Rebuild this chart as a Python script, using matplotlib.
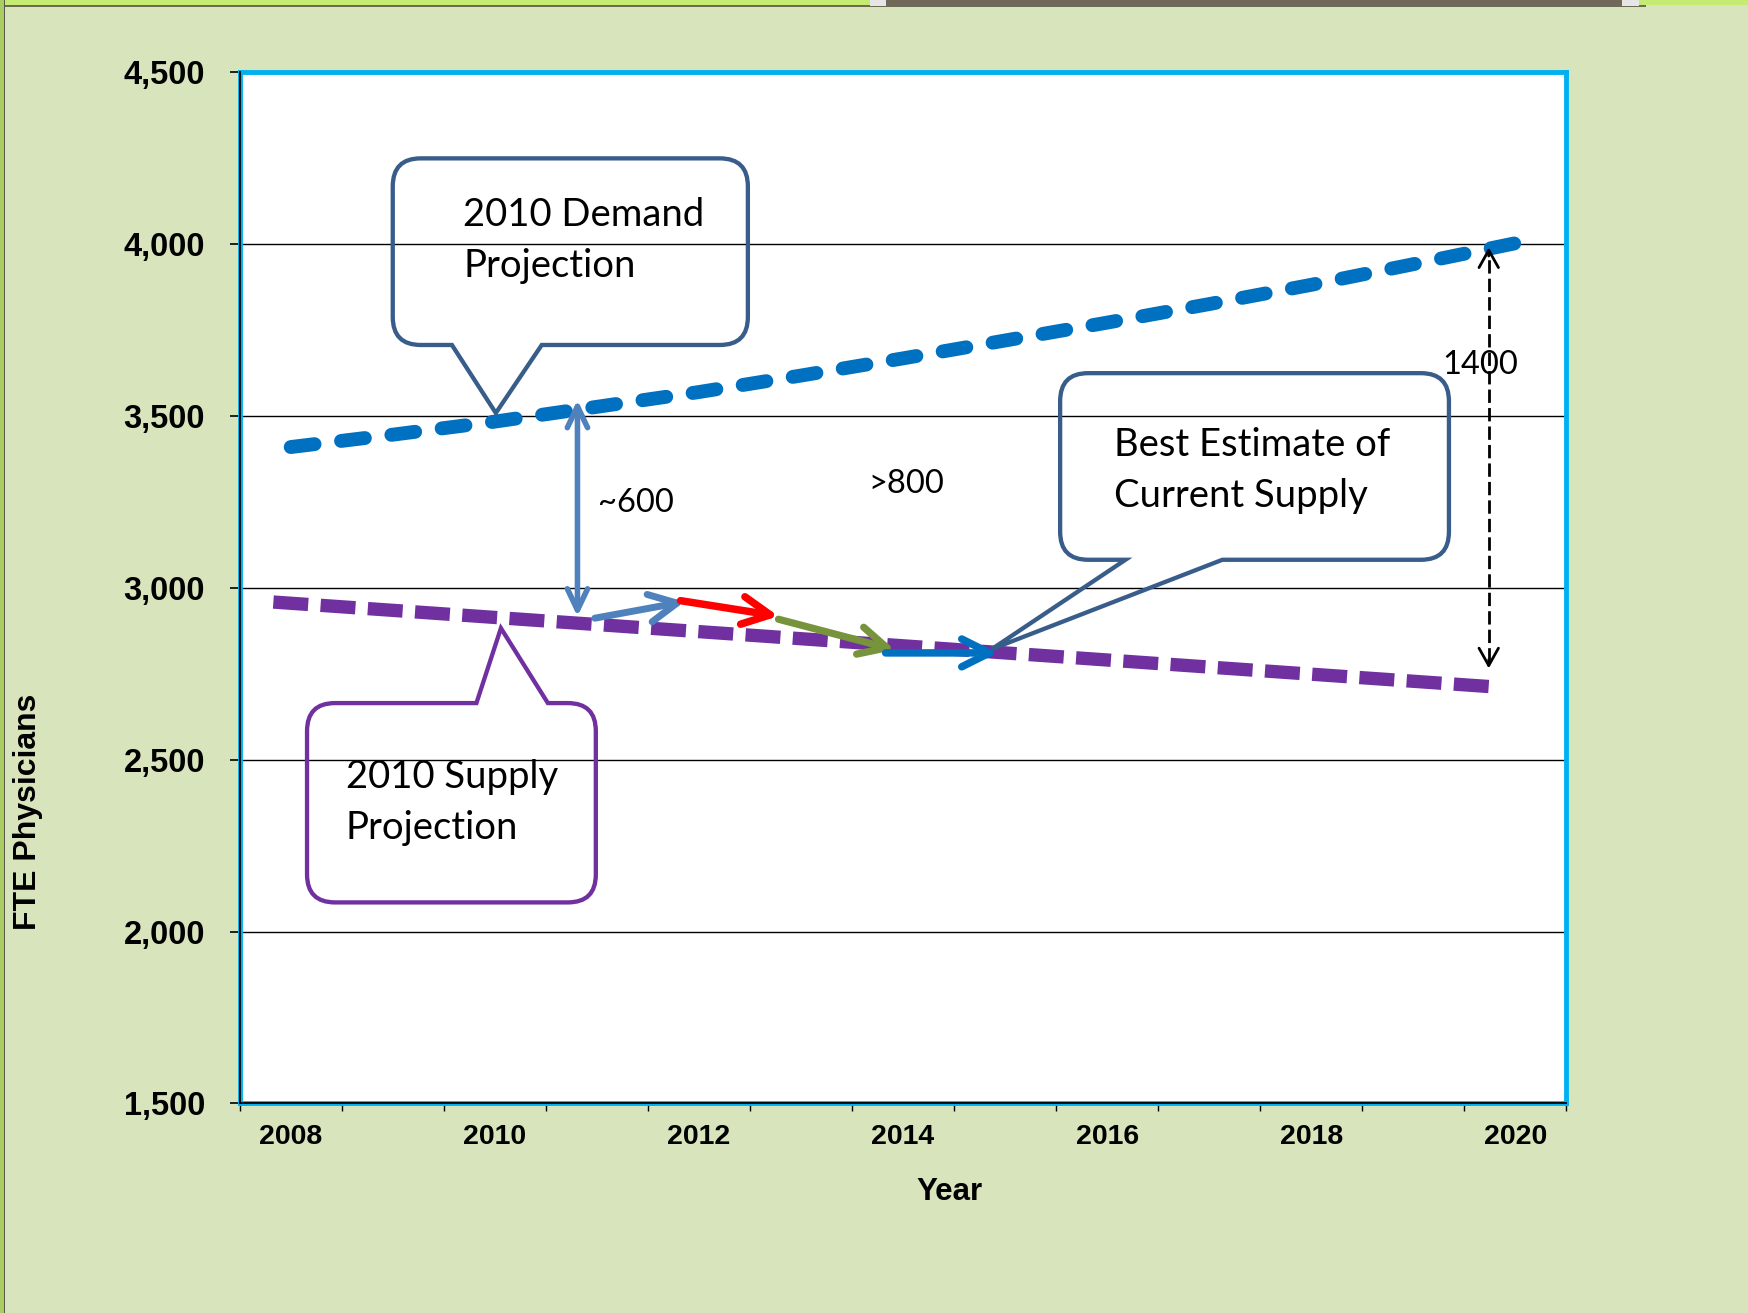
import matplotlib.pyplot as plt
from matplotlib.path import Path
from matplotlib.patches import PathPatch, FancyArrowPatch, Rectangle
from matplotlib.ticker import FuncFormatter, MultipleLocator

# data
years = list(range(2008, 2021))
demand = [3410, 3446, 3484, 3527, 3570, 3618, 3668, 3720, 3772, 3826, 3882, 3942, 4003]
supply_years = [2007.83, 2019.75]
supply = [2959, 2713]

y_ticks = [1500, 2000, 2500, 3000, 3500, 4000, 4500]
x_labels = [2008, 2010, 2012, 2014, 2016, 2018, 2020]

# callouts: box (x0, x1, y0, y1), pointer base (xa, xb), tip, side, colour, text lines
callouts = [
    ((2009.0, 2012.48, 3707, 4250), (2009.58, 2010.46), (2010.01, 3509), 'bottom', '#385D8A',
     ['2010 Demand', 'Projection'], (2009.69, 4053)),
    ((2008.16, 2010.99, 2085, 2665), (2009.82, 2010.52), (2010.06, 2883), 'top', '#7030A0',
     ['2010 Supply', 'Projection'], (2008.54, 2417)),
    ((2015.54, 2019.35, 3082, 3625), (2016.18, 2017.13), (2014.87, 2822), 'bottom', '#385D8A',
     ['Best Estimate of', 'Current Supply'], (2016.065, 3384)),
]
line_gap = 148

# arrows: start, end, colour, width, style
arrows = [
    ((2010.81, 2917), (2010.81, 3547), '#4F81BD', 4.0, '<->'),
    ((2010.98, 2912), (2011.86, 2960), '#4F81BD', 5.0, '->'),
    ((2011.82, 2963), (2012.78, 2918), '#FF0000', 5.4, '->'),
    ((2012.78, 2909), (2013.92, 2820), '#77933C', 5.2, '->'),
    ((2013.83, 2811), (2014.93, 2811), '#0070C0', 5.4, '->'),
]
gap_x = 2019.74
gap_lo, gap_hi = 2766, 3991

notes = [('~600', 2011.01, 3222), ('>800', 2013.66, 3276), ('1400', 2019.28, 3624)]

W, H = 1748, 1313
fig = plt.figure(figsize=(W / 100, H / 100), dpi=100, facecolor='#D8E4BC')

# screenshot edges
fig.add_artist(Rectangle((0, 1 - 5 / H), 1, 5 / H, transform=fig.transFigure, color='#C6EB73', lw=0))
fig.add_artist(Rectangle((0, 1 - 6.5 / H), 1646 / W, 1.5 / H, transform=fig.transFigure, color='#6B6B55', lw=0))
fig.add_artist(Rectangle((870 / W, 1 - 6 / H), 769 / W, 6 / H, transform=fig.transFigure, color='#E6E6E6', lw=0))
fig.add_artist(Rectangle((886 / W, 1 - 6 / H), 736 / W, 6 / H, transform=fig.transFigure, color='#72685A', lw=0))
fig.add_artist(Rectangle((0, 0), 3.5 / W, 1, transform=fig.transFigure, color='#A9CD62', lw=0))
fig.add_artist(Rectangle((3.5 / W, 0), 1.5 / W, 1, transform=fig.transFigure, color='#5A5A4A', lw=0))

ax = fig.add_axes([215 / 1568, 1 - 990 / 1178, 1190 / 1568, 925 / 1178])
ax.set_facecolor('white')
ax.set_xlim(2007.5, 2020.5)
ax.set_ylim(1500, 4500)

for s in ax.spines.values():
    s.set_color('#00B0F0')
    s.set_linewidth(3.5)
ax.plot([0, 0], [0, 1], transform=ax.transAxes, color='black', lw=1.3, clip_on=False, zorder=3)
ax.plot([0, 1], [0, 0], transform=ax.transAxes, color='black', lw=1.3, clip_on=False, zorder=3)

ax.set_yticks(y_ticks)
ax.yaxis.set_major_formatter(FuncFormatter(lambda v, p: f'{int(v):,}'))
ax.set_xticks(x_labels)
ax.set_xticklabels([str(x) for x in x_labels])
ax.xaxis.set_minor_locator(MultipleLocator(1, offset=0.5))
ax.tick_params(axis='y', length=7, width=1.2, direction='out', pad=18)
ax.tick_params(axis='x', which='major', length=0, pad=15)
ax.tick_params(axis='x', which='minor', length=6, width=1.0, direction='out')
for lab in ax.get_yticklabels():
    lab.set_fontfamily('Liberation Sans')
    lab.set_fontweight('bold')
    lab.set_fontsize(23.5)
for lab in ax.get_xticklabels():
    lab.set_fontfamily('Liberation Sans')
    lab.set_fontweight('bold')
    lab.set_fontsize(20.5)
ax.yaxis.grid(True, color='black', lw=1.0)
ax.set_axisbelow(True)

fig.text(852 / 1568, 1 - 1069 / 1178, 'Year', ha='center', va='center',
         fontfamily='Liberation Sans', fontweight='bold', fontsize=22.5)
fig.text(25 / 1568, 1 - 728 / 1178, 'FTE Physicians', ha='center', va='center', rotation=90,
         fontfamily='Liberation Sans', fontweight='bold', fontsize=23)

# projection lines
ax.plot(years, demand, color='#0070C0', lw=10, ls=(0, (1.73, 1.92)), dash_capstyle='round', zorder=4)
ax.plot(supply_years, supply, color='#7030A0', lw=9.6, ls=(0, (2.62, 0.93)), dash_capstyle='butt', zorder=4)


def callout(box, base, tip, side, color, r=28):
    T = ax.transData
    x0, x1, y0, y1 = box
    L, B = T.transform((x0, y0))
    R, Tp = T.transform((x1, y1))
    edge = B if side == 'bottom' else Tp
    ba = T.transform((base[0], edge))[0]
    bb = T.transform((base[1], edge))[0]
    tx, ty = T.transform(tip)
    v = [(L + r, Tp)]
    c = [Path.MOVETO]
    if side == 'top':
        v += [(ba, Tp), (tx, ty), (bb, Tp)]
        c += [Path.LINETO] * 3
    v += [(R - r, Tp), (R, Tp), (R, Tp - r), (R, B + r), (R, B), (R - r, B)]
    c += [Path.LINETO, Path.CURVE3, Path.CURVE3, Path.LINETO, Path.CURVE3, Path.CURVE3]
    if side == 'bottom':
        v += [(bb, B), (tx, ty), (ba, B)]
        c += [Path.LINETO] * 3
    v += [(L + r, B), (L, B), (L, B + r), (L, Tp - r), (L, Tp), (L + r, Tp), (L + r, Tp)]
    c += [Path.LINETO, Path.CURVE3, Path.CURVE3, Path.LINETO, Path.CURVE3, Path.CURVE3, Path.CLOSEPOLY]
    dv = T.inverted().transform(v)
    ax.add_patch(PathPatch(Path(dv, c), facecolor='none', edgecolor=color, lw=3.1,
                           joinstyle='miter', zorder=5))


for box, base, tip, side, color, lines, (tx, ty) in callouts:
    callout(box, base, tip, side, color)
    for i, line in enumerate(lines):
        ax.text(tx, ty - i * line_gap, line, ha='left', va='baseline',
                fontfamily='Lato', fontsize=27.5, color='black', zorder=6)

for start, end, color, lw, style in arrows:
    if style == '<->':
        st = '<->,head_length=15.3,head_width=7.3'
    else:
        st = '->,head_length=20,head_width=10'
    ax.add_patch(FancyArrowPatch(start, end, arrowstyle=st, mutation_scale=1, color=color, lw=lw,
                                 shrinkA=0, shrinkB=0, capstyle='round', joinstyle='round', zorder=7))

# dashed gap arrow
ax.plot([gap_x, gap_x], [gap_lo + 20, gap_hi - 20], color='black', lw=2, ls=(0, (4.8, 1.85)), zorder=7)
for tip_y, d in [(gap_hi, -1), (gap_lo, 1)]:
    ax.add_patch(FancyArrowPatch((gap_x, tip_y + d * 25), (gap_x, tip_y), mutation_scale=1,
                                 arrowstyle='->,head_length=12.5,head_width=7', color='black', lw=2,
                                 shrinkA=0, shrinkB=0, zorder=7))

for s, x, y in notes:
    ax.text(x, y, s, ha='left', va='baseline', fontfamily='Lato', fontsize=23.5, color='black', zorder=6)

fig.savefig('out.png', dpi=100, facecolor=fig.get_facecolor())
